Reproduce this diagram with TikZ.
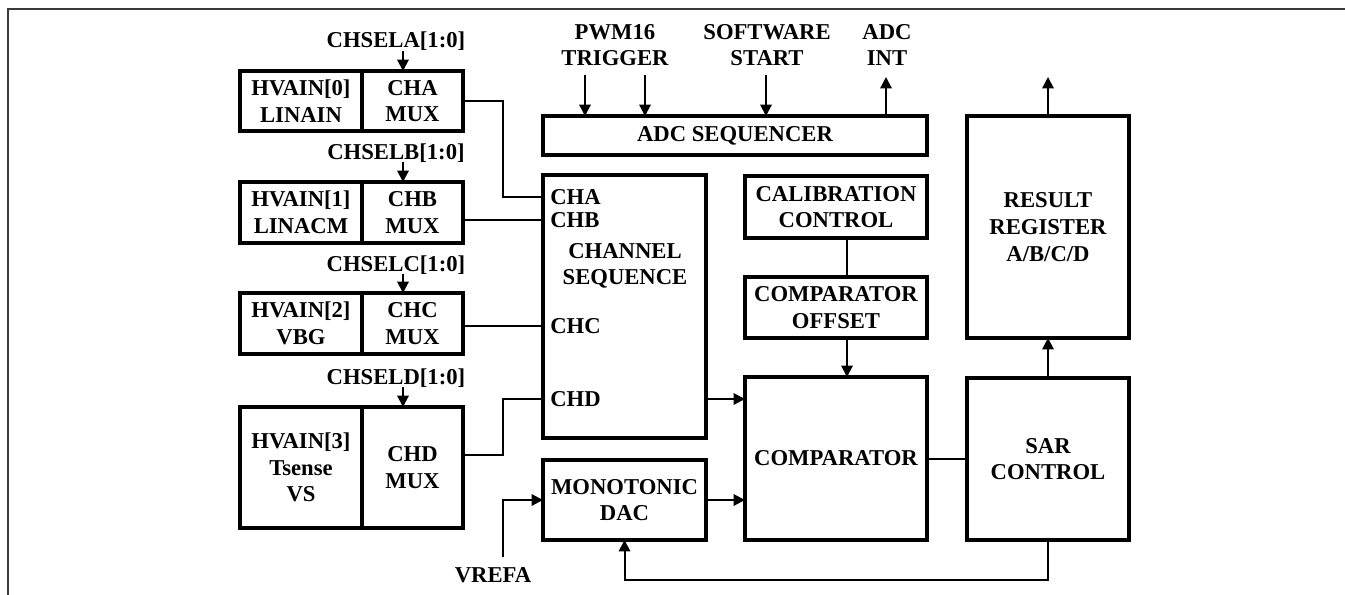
\documentclass[tikz,border=0pt]{standalone}
\usepackage{fontspec}
\setmainfont{Liberation Serif}
\usepackage{xcolor}
\usetikzlibrary{arrows.meta,positioning}
\definecolor{adcLine}{HTML}{000000}
\definecolor{adcFrame}{HTML}{3A3A3A}
\tikzset{
  unit/.style={
    rectangle,
    draw=adcLine,
    line width=2.5pt,
    align=center,
    inner sep=0pt,
    outer sep=0pt,
    font=\fontsize{17}{20}\selectfont\bfseries
  },
  hvbox/.style={unit, minimum width=91.5pt},
  muxbox/.style={unit, minimum width=75.75pt},
  lbl/.style={align=center, inner sep=0pt, font=\fontsize{17}{19.5}\selectfont\bfseries},
  port/.style={lbl, anchor=west},
  wire/.style={line width=1.5pt, draw=adcLine},
  arrow/.style={-{Triangle[length=8.5pt,width=8.5pt]}, line width=1.5pt, draw=adcLine},
  pageframe/.style={line width=1.4pt, draw=adcFrame}
}
\begin{document}
\begin{tikzpicture}[x=0.75pt,y=-0.75pt]
  \useasboundingbox (0,0) rectangle (1345,595);
  \draw[pageframe] (8,640) -- (8,9) -- (1380,9);

  \node[hvbox, minimum height=45pt] (hv0) at (301,101) {HVAIN[0]\\LINAIN};
  \node[muxbox, minimum height=45pt, right=0pt of hv0] (mux0) {CHA\\MUX};
  \node[hvbox, minimum height=45.75pt] (hv1) at (301,212.5) {HVAIN[1]\\LINACM};
  \node[muxbox, minimum height=45.75pt, right=0pt of hv1] (mux1) {CHB\\MUX};
  \node[hvbox, minimum height=45.75pt] (hv2) at (301,323.5) {HVAIN[2]\\VBG};
  \node[muxbox, minimum height=45.75pt, right=0pt of hv2] (mux2) {CHC\\MUX};
  \node[hvbox, minimum height=90.75pt] (hv3) at (301,467.5) {HVAIN[3]\\Tsense\\VS};
  \node[muxbox, minimum height=90.75pt, right=0pt of hv3] (mux3) {CHD\\MUX};

  \node[lbl] (selA) at (396,41) {CHSELA[1:0]};
  \node[lbl] (selB) at (396,153) {CHSELB[1:0]};
  \node[lbl] (selC) at (396,265) {CHSELC[1:0]};
  \node[lbl] (selD) at (396,378) {CHSELD[1:0]};
  \coordinate (sA) at (403,51);
  \coordinate (sB) at (403,162);
  \coordinate (sC) at (403,274);
  \coordinate (sD) at (403,387);

  \node[unit, minimum width=288pt, minimum height=29.25pt] (seqr) at (735,135.5) {ADC SEQUENCER};
  \node[lbl] (pwm) at (615,45) {PWM16\\TRIGGER};
  \node[lbl] (sw) at (767,45) {SOFTWARE\\START};
  \node[lbl] (adcint) at (887,45) {ADC\\INT};
  \coordinate (tr1) at (585,75);
  \coordinate (tr2) at (645,75);
  \coordinate (tsw) at (766,75);
  \coordinate (tint) at (886,77);

  \node[unit, minimum width=122.25pt, minimum height=197.25pt] (seq) at (624.5,306.5) {};
  \node[lbl] (seqtxt) at (625,266) {CHANNEL\\SEQUENCE};
  \node[port] (pA) at (550,197) {CHA};
  \node[port] (pB) at (550,220) {CHB};
  \node[port] (pC) at (550,326) {CHC};
  \node[port] (pD) at (550,399) {CHD};
  \node[unit, minimum width=122.25pt, minimum height=60pt, below=16.5pt of seq] (dac) {MONOTONIC\\DAC};

  \node[unit, minimum width=136.5pt, minimum height=46.5pt] (cal) at (836,207) {CALIBRATION\\CONTROL};
  \node[unit, minimum width=136.5pt, minimum height=45.75pt, below=29.25pt of cal] (off) {COMPARATOR\\OFFSET};
  \node[unit, minimum width=136.5pt, minimum height=122.25pt, below=29.25pt of off] (cmp) {COMPARATOR};

  \node[unit, minimum width=121.5pt, minimum height=166.5pt] (res) at (1048,227) {RESULT\\REGISTER\\A/B/C/D};
  \node[unit, minimum width=121.5pt, minimum height=121.5pt, below=30pt of res] (sar) {SAR\\CONTROL};
  \coordinate (rout) at (1048,77);

  \node[lbl] (vref) at (493,575) {VREFA};
  \coordinate (vr) at (503,557);

  \draw[arrow] (sA) -- (sA |- mux0.north);
  \draw[arrow] (sB) -- (sB |- mux1.north);
  \draw[arrow] (sC) -- (sC |- mux2.north);
  \draw[arrow] (sD) -- (sD |- mux3.north);
  \draw[arrow] (tr1) -- (tr1 |- seqr.north);
  \draw[arrow] (tr2) -- (tr2 |- seqr.north);
  \draw[arrow] (tsw) -- (tsw |- seqr.north);
  \draw[arrow] (tint |- seqr.north) -- (tint);
  \draw[arrow] (res.north) -- (rout);

  \draw[wire] (mux0.east) -- ++(40,0) |- (seq.west |- pA);
  \draw[wire] (mux1.east |- pB) -- (seq.west |- pB);
  \draw[wire] (mux2.east |- pC) -- (seq.west |- pC);
  \draw[wire] ([yshift=9.4pt]mux3.east) -- ++(40,0) |- (seq.west |- pD);

  \draw[arrow] (seq.east |- pD) -- (cmp.west |- pD);
  \draw[arrow] (dac.east) -- (cmp.west |- dac.east);
  \draw[arrow] (vr) |- (dac.west);
  \draw[wire] ([xshift=8.25pt]cal.south) -- ([xshift=8.25pt]off.north);
  \draw[arrow] ([xshift=8.25pt]off.south) -- ([xshift=8.25pt]cmp.north);
  \draw[wire] (cmp.east) -- (sar.west |- cmp.east);
  \draw[arrow] (sar.north) -- (res.south);
  \draw[arrow] (sar.south) -- ++(0,40) -| (dac.south);
\end{tikzpicture}
\end{document}
